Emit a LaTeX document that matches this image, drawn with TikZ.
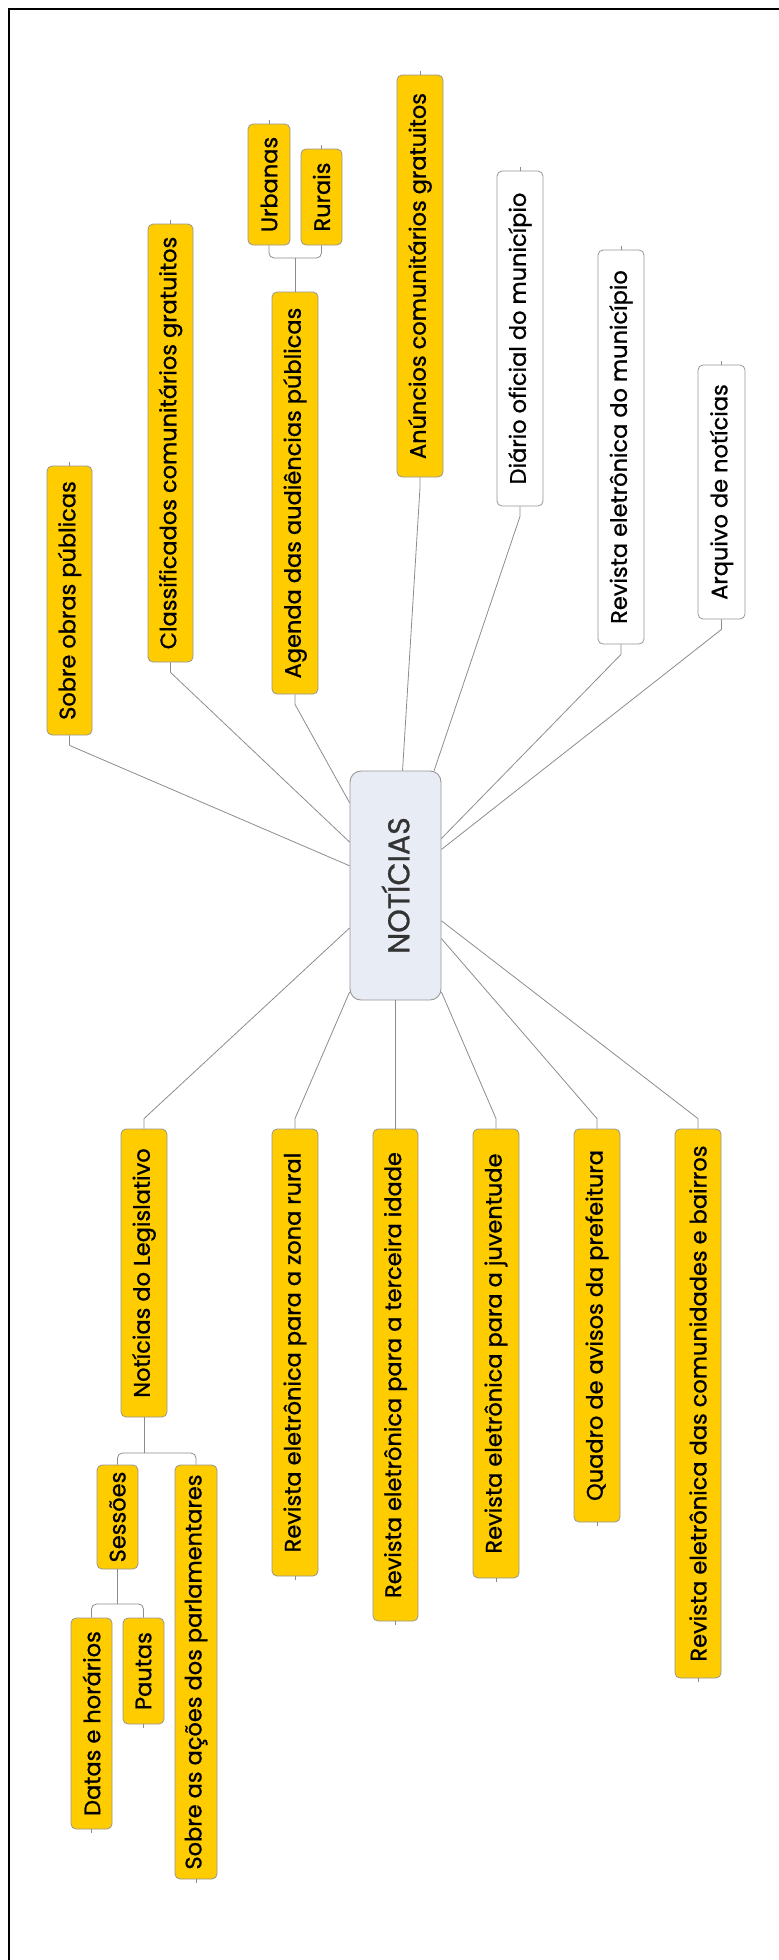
\documentclass[tikz,border=0pt]{standalone}
\usepackage{graphicx}
\usepackage{fontspec}
\setmainfont{Poppins}
\newfontfamily\topicfont{Poppins}[FakeBold=0.9]
\usetikzlibrary{calc}

\definecolor{topicyellow}{RGB}{255,204,0}
\definecolor{topicedge}{RGB}{150,150,150}
\definecolor{centrefill}{RGB}{232,236,245}
\definecolor{linkgray}{RGB}{140,140,140}
\definecolor{centretext}{RGB}{51,51,51}

\tikzset{
  topic/.style={draw=topicedge, line width=0.8pt, rounded corners=5pt,
    fill=topicyellow, inner sep=0pt, text=black,
    font=\topicfont\fontsize{22.5}{26}\selectfont},
  plaintopic/.style={topic, fill=white},
  centretopic/.style={draw=topicedge, line width=0.9pt, rounded corners=11pt,
    fill=centrefill, inner sep=0pt, text=centretext,
    font=\topicfont\fontsize{30}{34}\selectfont},
  link/.style={draw=linkgray, line width=0.8pt},
  endtick/.style={draw=linkgray, line width=0.6pt},
  frameline/.style={draw=black, line width=2pt},
}

% topic box given by its corners: style, name, x1, y1, x2, y2, text
\newcommand\topicnode[7]{%
  \node[#1, minimum width={#5-#3}, minimum height={#6-#4}] (#2)
    at ({(#3+#5)/2},{(#4+#6)/2}) {\rotatebox{90}{#7}};}

\begin{document}
\begin{tikzpicture}[x=1pt, y=-1pt]
\useasboundingbox (0,0) rectangle (779,1960);

% frame
\draw[frameline] (9,1960) -- (9,9) -- (779,9);

% central topic
\node[centretopic, minimum width=91, minimum height=229] (centre)
  at (395.5,885.5) {\rotatebox{90}{NOTÍCIAS}};

% upper branches
\topicnode{topic}{obras}{47}{466}{92}{735}{Sobre obras públicas}
\topicnode{topic}{classif}{148}{224}{193}{662}{Classificados comunitários gratuitos}
\topicnode{topic}{agenda}{272}{292}{318}{694}{Agenda das audiências públicas}
\topicnode{topic}{urbanas}{248}{124}{290}{245}{Urbanas}
\topicnode{topic}{rurais}{301}{149}{342}{245}{Rurais}
\topicnode{topic}{anuncios}{397}{75}{443}{477}{Anúncios comunitários gratuitos}
\topicnode{plaintopic}{diario}{497}{171}{543}{506}{Diário oficial do município}
\topicnode{plaintopic}{revmun}{598}{250}{644}{644}{Revista eletrônica do município}
\topicnode{plaintopic}{arquivo}{698}{365}{745}{619}{Arquivo de notícias}

% lower branches
\topicnode{topic}{legis}{121}{1129}{167}{1417}{Notícias do Legislativo}
\topicnode{topic}{rural}{272}{1129}{318}{1576}{Revista eletrônica para a zona rural}
\topicnode{topic}{terceira}{373}{1129}{418}{1621}{Revista eletrônica para a terceira idade}
\topicnode{topic}{juventude}{473}{1129}{519}{1578}{Revista eletrônica para a juventude}
\topicnode{topic}{quadro}{574}{1129}{620}{1522}{Quadro de avisos da prefeitura}
\topicnode{topic}{comunid}{675}{1129}{721}{1678}{Revista eletrônica das comunidades e bairros}
\topicnode{topic}{sessoes}{97}{1465}{138}{1569}{Sessões}
\topicnode{topic}{acoes}{175}{1465}{217}{1879}{Sobre as ações dos parlamentares}
\topicnode{topic}{datas}{71}{1618}{112}{1829}{Datas e horários}
\topicnode{topic}{pautas}{123}{1618}{164}{1724}{Pautas}

% links from the central topic
\foreach \n in {obras,classif,agenda,anuncios,diario,revmun,arquivo}
  \draw[link] (\n.south) -- ++(0,10) -- (centre);
\foreach \n in {legis,rural,terceira,juventude,quadro,comunid}
  \draw[link] (\n.north) -- ++(0,-10) -- (centre);

% sub-topic brackets
\coordinate (agendaJ) at (agenda.north |- 0,258);
\draw[link] (agenda.north) -- (agendaJ);
\draw[link, rounded corners=5pt] (urbanas.south) |- (agendaJ) -| (rurais.south);

\coordinate (legisJ) at (legis.south |- 0,1453);
\draw[link] (legis.south) -- (legisJ);
\draw[link, rounded corners=5pt] (sessoes.north) |- (legisJ) -| (acoes.north);

\coordinate (sessoesJ) at (sessoes.south |- 0,1604);
\draw[link] (sessoes.south) -- (sessoesJ);
\draw[link, rounded corners=5pt] (datas.north) |- (sessoesJ) -| (pautas.north);

% end ticks on leaf topics
\foreach \n in {obras,classif,urbanas,rurais,anuncios,diario,revmun,arquivo}
  \draw[endtick] (\n.north) -- ++(0,-4);
\foreach \n in {rural,terceira,juventude,quadro,comunid,acoes,datas,pautas}
  \draw[endtick] (\n.south) -- ++(0,4);
\end{tikzpicture}
\end{document}
